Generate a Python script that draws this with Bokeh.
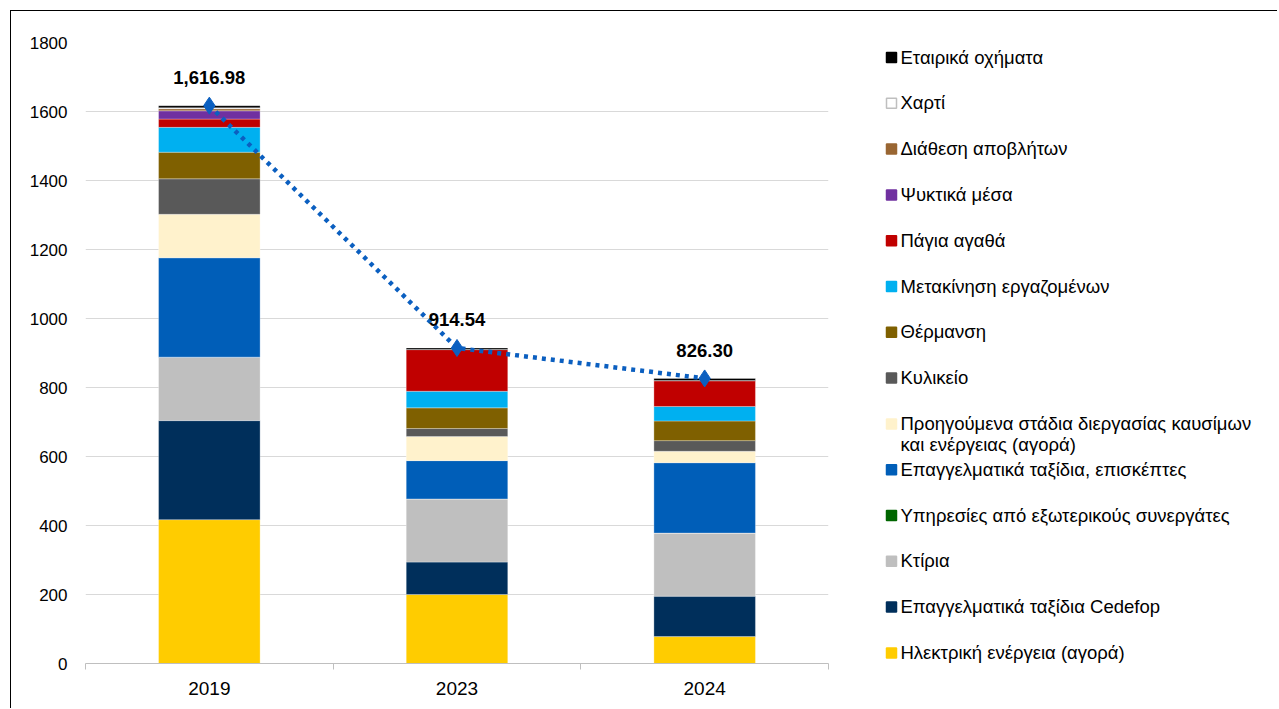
from bokeh.plotting import figure
from bokeh.models import Range1d, FixedTicker, ColumnDataSource
from bokeh.layouts import row
from bokeh.embed import file_html
from bokeh.resources import INLINE
from bokeh.core.properties import value

FONT = "Liberation Sans"

years = ["2019", "2023", "2024"]

# stack order: bottom -> top
series_names = [
    "Ηλεκτρική ενέργεια (αγορά)",
    "Επαγγελματικά ταξίδια Cedefop",
    "Κτίρια",
    "Υπηρεσίες από εξωτερικούς συνεργάτες",
    "Επαγγελματικά ταξίδια, επισκέπτες",
    "Προηγούμενα στάδια διεργασίας καυσίμων\nκαι ενέργειας (αγορά)",
    "Κυλικείο",
    "Θέρμανση",
    "Μετακίνηση εργαζομένων",
    "Πάγια αγαθά",
    "Ψυκτικά μέσα",
    "Διάθεση αποβλήτων",
    "Χαρτί",
    "Εταιρικά οχήματα",
]
series_colors = [
    "#FFCC00", "#002F5B", "#BFBFBF", "#006600", "#005EB8", "#FFF2CC",
    "#595959", "#7F6000", "#00B0F0", "#C00000", "#7030A0", "#996633",
    "#FFFFFF", "#000000",
]

electricity = [417, 200, 78]
cedefop_travel = [287, 94, 117]
buildings = [184, 183, 183]
services = [0, 0, 0]
visitors_travel = [288, 111, 204]
upstream = [126, 70, 33]
canteen = [103, 23, 31]
heating = [77, 60, 57]
commuting = [72, 48, 42]
capital_goods = [24, 121, 75]
refrigerants = [24, 0, 0]
waste = [6, 0, 0]
paper = [3, 0, 0]
vehicles = [5.98, 4.54, 6.30]

totals = [1616.98, 914.54, 826.30]

series_values = [electricity, cedefop_travel, buildings, services, visitors_travel,
                 upstream, canteen, heating, commuting, capital_goods, refrigerants,
                 waste, paper, vehicles]

xs = [i + 0.5 for i in range(len(years))]
keys = [f"s{i}" for i in range(len(series_names))]
data = {"x": xs}
for k, v in zip(keys, series_values):
    data[k] = v
src = ColumnDataSource(data)

p = figure(width=820, height=697, x_range=Range1d(0, len(years)), y_range=Range1d(0, 1800),
           toolbar_location=None, output_backend="svg",
           min_border_left=74, min_border_right=3, min_border_top=31, min_border_bottom=45)
p.outline_line_color = None
p.background_fill_color = "white"
p.border_fill_color = "white"

p.vbar_stack(keys, x="x", width=0.41, source=src, fill_color=series_colors,
             line_color=["#D0D0D0" if c == "#FFFFFF" else "white" for c in series_colors],
             line_width=0.6, line_alpha=0.5)

line_col = "#0B5FC0"
p.line(xs, totals, line_color=line_col, line_width=4.5, line_dash="4 5")
p.scatter(xs, totals, marker="diamond", size=17, fill_color=line_col, line_color=line_col)
p.text(xs, totals, text=[f"{t:,.2f}" for t in totals], y_offset=-28,
       text_align="center", text_baseline="middle", text_font=value(FONT),
       text_font_style="bold", text_font_size="18.5px", text_color="#000000")

# axes
p.xaxis.ticker = FixedTicker(ticks=xs, minor_ticks=list(range(len(years) + 1)))
p.xaxis.major_label_overrides = {x: y for x, y in zip(xs, years)}
p.xaxis.major_tick_line_color = None
p.xaxis.minor_tick_out = 6
p.xaxis.minor_tick_in = 0
p.xaxis.minor_tick_line_color = "#BFBFBF"
p.xaxis.axis_line_color = "#BFBFBF"
p.xaxis.major_label_standoff = 12
p.xaxis.major_label_text_font = FONT
p.xaxis.major_label_text_font_size = "19px"
p.xaxis.major_label_text_color = "#000000"

p.yaxis.ticker = FixedTicker(ticks=list(range(0, 1801, 200)))
p.yaxis.axis_line_color = None
p.yaxis.major_tick_line_color = None
p.yaxis.minor_tick_line_color = None
p.yaxis.major_label_standoff = 12
p.yaxis.major_label_text_font = FONT
p.yaxis.major_label_text_font_size = "17px"
p.yaxis.major_label_text_color = "#000000"

p.xgrid.grid_line_color = None
p.ygrid.grid_line_color = "#D9D9D9"
p.ygrid.grid_line_width = 1

# legend panel (its frame is aligned with the chart frame by the row layout,
# so its y range is expressed in page pixels of that frame: 42..663)
LW, LH = 446, 697
leg = figure(width=LW, height=LH, x_range=Range1d(0, LW), y_range=Range1d(663, 42),
             toolbar_location=None, output_backend="svg", min_border=0,
             min_border_top=31, min_border_bottom=45,
             x_axis_location=None, y_axis_location=None)
leg.grid.visible = False
leg.outline_line_color = None

order = list(reversed(range(len(series_names))))
slot0, step = 57, 45.8
ly = [slot0 + step * k for k in range(len(order))]
lx_sq = [60] * len(order)
lx_tx = [69] * len(order)
leg.scatter(lx_sq, ly, marker="square", size=10,
            fill_color=[series_colors[i] for i in order],
            line_color=["#BFBFBF" if series_colors[i] == "#FFFFFF" else series_colors[i] for i in order],
            line_width=1.5)
leg.text(lx_tx, ly, text=[series_names[i] for i in order], y_offset=-11,
         text_align="left", text_baseline="top", text_font=value(FONT),
         text_font_size="18.5px", text_color="#000000", text_line_height=1.02)

layout = row(p, leg)
layout.styles = {"border-left": "1px solid #000000", "border-top": "1px solid #000000",
                 "margin-left": "10px", "margin-top": "10px"}

open("out.html", "w").write(file_html(layout, INLINE))
